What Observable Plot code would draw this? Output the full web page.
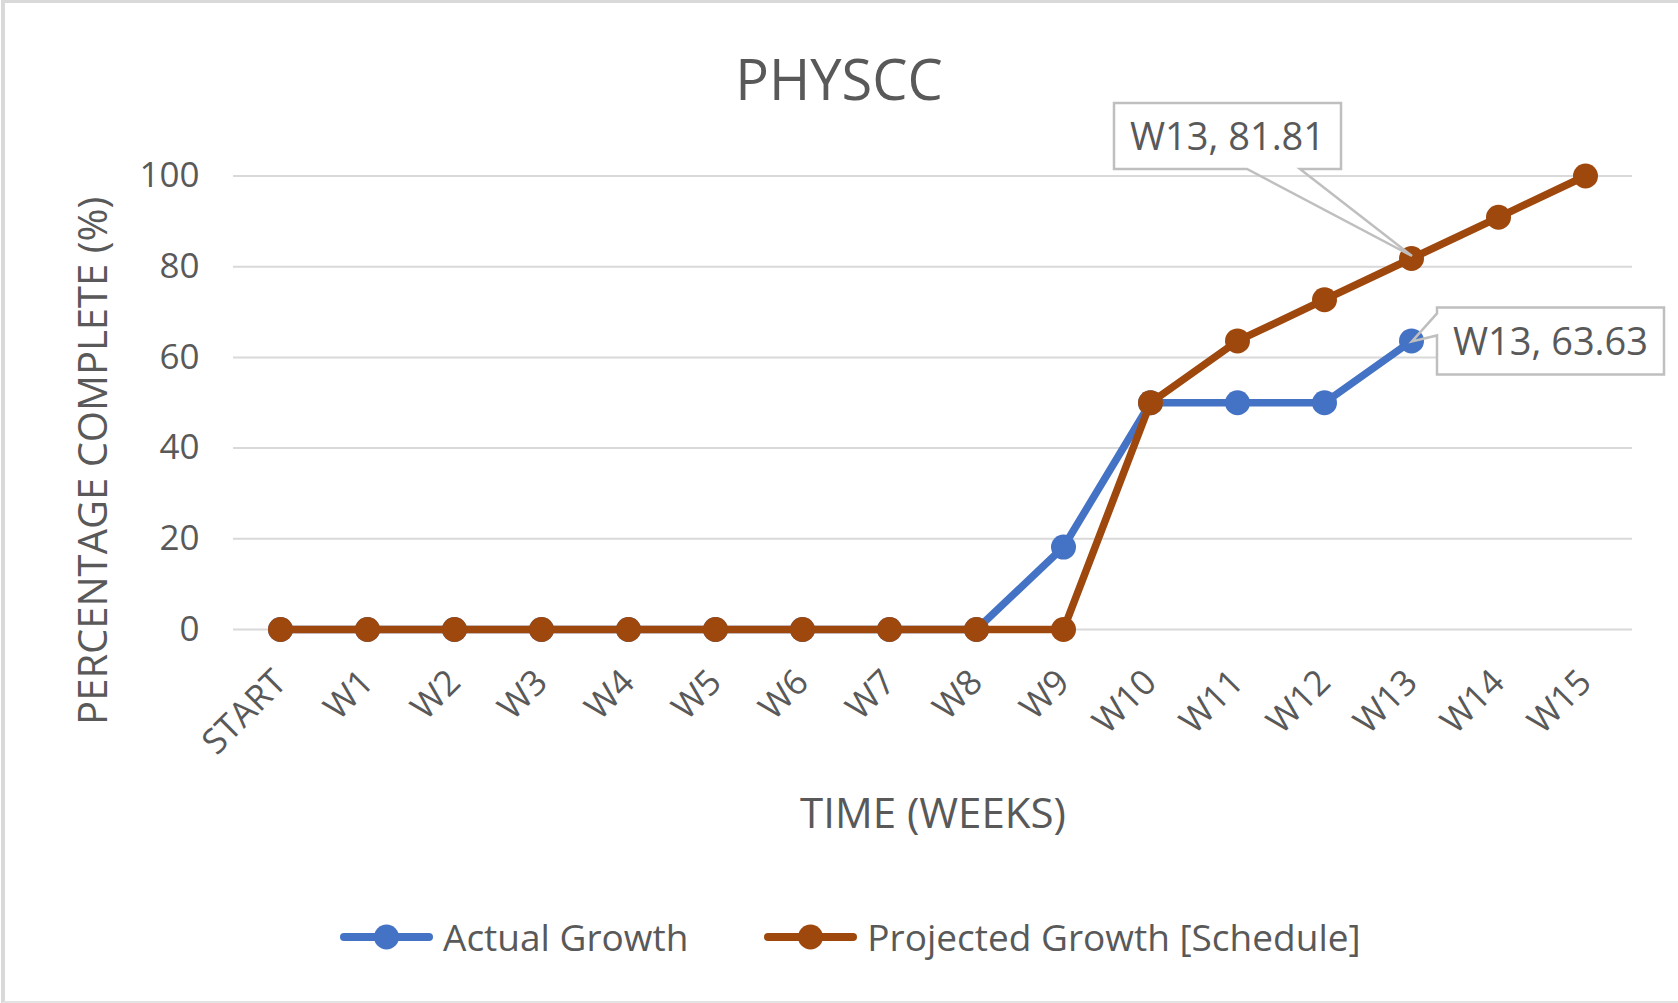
<!DOCTYPE html>
<html><head><meta charset="utf-8">
<script src="https://cdn.jsdelivr.net/npm/d3@7"></script>
<script src="https://cdn.jsdelivr.net/npm/@observablehq/plot@0.6"></script>
<style>
body{margin:0;background:#fff;font-family:"Open Sans",sans-serif;color:#595959;}
#wrap{position:relative;width:1678px;height:1003px;overflow:hidden;background:#fff;}
#border{position:absolute;left:1px;top:0;width:1677px;height:1003px;box-sizing:border-box;border-top:3px solid #d9d9d9;border-left:4px solid #d9d9d9;border-bottom:2px solid #e3e3e3;pointer-events:none;}
#title{height:100px;position:relative;}
#title span{position:absolute;left:0;right:0;top:50px;text-align:center;font-size:56px;line-height:56px;color:#595959;}
#chart svg{display:block;}
#legend{height:123px;position:relative;}
#legend .row{position:absolute;top:37px;left:340px;height:40px;display:flex;align-items:center;font-size:37px;line-height:40px;white-space:nowrap;}
#legend .item{display:flex;align-items:center;}
#legend .item svg{margin-right:10px;}
</style></head>
<body>
<div id="wrap">
  <div id="title"><span>PHYSCC</span></div>
  <div id="chart"></div>
  <div id="legend"><div class="row" id="legendRow"></div></div>
  <div id="border"></div>
</div>
<script>
const weeks = ["START","W1","W2","W3","W4","W5","W6","W7","W8","W9","W10","W11","W12","W13","W14","W15"];
const actualGrowth = [0,0,0,0,0,0,0,0,0,18.18,50,50,50,63.63,null,null];
const projectedGrowth = [0,0,0,0,0,0,0,0,0,0,50,63.63,72.72,81.81,90.9,100];
const seriesNames = ["Actual Growth","Projected Growth [Schedule]"];
const seriesColors = ["#4472C4","#9E480E"];
const yTicks = [0,20,40,60,80,100];
const xTitle = "TIME (WEEKS)";
const yTitle = "PERCENTAGE COMPLETE (%)";
const labelWeek = "W13";

const actualRows = weeks.map((w,i)=>({week:w, value:actualGrowth[i], series:seriesNames[0]})).filter(d=>d.value!=null);
const projectedRows = weeks.map((w,i)=>({week:w, value:projectedGrowth[i], series:seriesNames[1]}));
const li = weeks.indexOf(labelWeek);
const callouts = [
  {week:labelWeek, value:projectedGrowth[li], text:`${labelWeek}, ${projectedGrowth[li]}`, kind:"above"},
  {week:labelWeek, value:actualGrowth[li], text:`${labelWeek}, ${actualGrowth[li]}`, kind:"right"}
];

function calloutMark(index, scales) {
  const g = d3.create("svg:g");
  for (const c of callouts) {
    const px = scales.x(c.week), py = scales.y(c.value);
    const gg = g.append("g").attr("transform", `translate(${px},${py})`);
    let L,R,T,B,outline;
    if (c.kind === "above") {
      L=-297; R=-70; T=-155; B=-89;
      outline = `M${-164},${B} L${L},${B} L${L},${T} L${R},${T} L${R},${B} L${-111},${B} L1,-2 Z`;
    } else {
      L=26; R=253; T=-33; B=34;
      outline = `M${L},-5 L${L},${B} L${R},${B} L${R},${T} L${L},${T} L${L},-27 L1,1 Z`;
    }
    gg.append("rect").attr("x",L).attr("y",T).attr("width",R-L).attr("height",B-T).attr("fill","white");
    gg.append("path").attr("d",outline).attr("fill","none").attr("stroke","#bfbfbf").attr("stroke-width",2.5).attr("stroke-linejoin","miter");
    gg.append("text").attr("x",(L+R)/2).attr("y",(T+B)/2).attr("dy","0.36em").attr("text-anchor","middle")
      .attr("font-size",38).attr("fill","#595959").attr("font-family","Open Sans").text(c.text);
  }
  return g.node();
}

const chart = Plot.plot({
  width:1678, height:780,
  marginLeft:233, marginRight:46, marginTop:75.5, marginBottom:251,
  x:{type:"point", domain:weeks, padding:0.5},
  y:{domain:[0,100]},
  style:{fontFamily:"Open Sans", fontSize:"35px", color:"#595959", background:"white", overflow:"visible"},
  marks:[
    Plot.gridY(yTicks,{stroke:"#d9d9d9", strokeOpacity:1, strokeWidth:2}),
    Plot.axisY(yTicks,{tickSize:0, tickPadding:34, label:null, fontSize:35}),
    Plot.axisX({tickRotate:-45, tickSize:0, tickPadding:47, label:null, fontSize:35}),
    Plot.line(actualRows,{x:"week", y:"value", stroke:seriesColors[0], strokeWidth:7.5, strokeLinejoin:"round", strokeLinecap:"round"}),
    Plot.dot(actualRows,{x:"week", y:"value", r:12.5, fill:seriesColors[0]}),
    Plot.line(projectedRows,{x:"week", y:"value", stroke:seriesColors[1], strokeWidth:7.5, strokeLinejoin:"round", strokeLinecap:"round"}),
    Plot.dot(projectedRows,{x:"week", y:"value", r:12.5, fill:seriesColors[1]}),
    Plot.text([xTitle],{frameAnchor:"bottom", text:d=>d, dy:198, fontSize:42, fill:"#595959"}),
    Plot.text([yTitle],{frameAnchor:"left", text:d=>d, rotate:-90, textAnchor:"middle", dx:-139, dy:58, fontSize:40, fill:"#595959"}),
    calloutMark
  ]
});
document.getElementById("chart").appendChild(chart);

const row = document.getElementById("legendRow");
seriesNames.forEach((name,i)=>{
  const item = document.createElement("div");
  item.className = "item";
  if (i>0) item.style.marginLeft = "76px";
  item.innerHTML = `<svg width="93" height="30"><line x1="4" x2="89" y1="15" y2="15" stroke="${seriesColors[i]}" stroke-width="8" stroke-linecap="round"/><circle cx="46.5" cy="15" r="12.5" fill="${seriesColors[i]}"/></svg><span>${name}</span>`;
  row.appendChild(item);
});
</script>
</body></html>
